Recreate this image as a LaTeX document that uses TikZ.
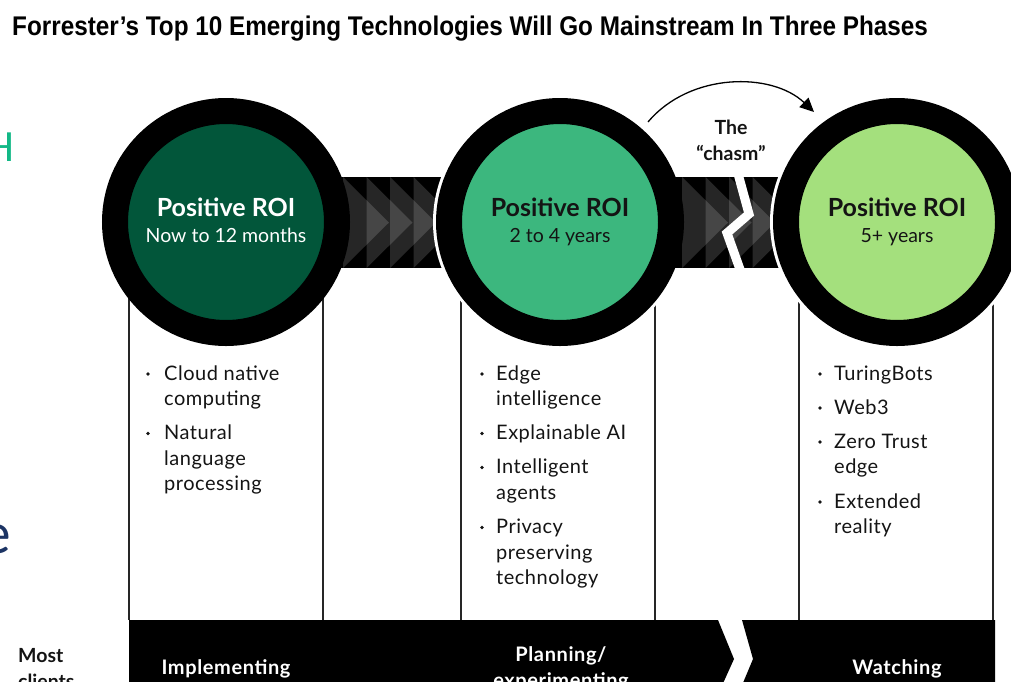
\documentclass[tikz,border=0pt]{standalone}
\usepackage{fontspec}
\setmainfont{Lato}
\newfontfamily\titlefont{Liberation Sans}
\usetikzlibrary{arrows.meta}
\definecolor{darkgreen}{RGB}{2,86,58}
\definecolor{midgreen}{RGB}{60,183,126}
\definecolor{lightgreen}{RGB}{164,224,125}
\definecolor{tealfrag}{RGB}{18,184,134}
\definecolor{navyfrag}{RGB}{28,52,100}
\definecolor{textdark}{RGB}{20,20,20}
\begin{document}
\begin{tikzpicture}[x=1pt,y=-1pt,
  ring/.style={circle, draw=black, line width=26pt, minimum size=222pt, inner sep=0pt},
  gap/.style={fill=white},
  band/.style={fill=black},
  chev/.style={fill=white, fill opacity=0.15},
  colline/.style={draw=black!85, line width=1.4pt},
  ctitle/.style={inner sep=0pt, anchor=base, font=\fontsize{25}{28}\selectfont\bfseries},
  csub/.style={inner sep=0pt, anchor=base, font=\fontsize{19.5}{22}\selectfont},
  item/.style={inner sep=0pt, anchor=base west, text=textdark, font=\fontsize{20}{22}\selectfont\addfontfeature{LetterSpace=2.5}},
  dot/.style={fill=textdark},
  bartext/.style={inner sep=0pt, anchor=base, text=white, font=\fontsize{20}{22}\selectfont\bfseries\addfontfeature{LetterSpace=3}},
  sidetext/.style={inner sep=0pt, anchor=base west, text=textdark, font=\fontsize{19.5}{22}\selectfont\bfseries},
  chasmtext/.style={inner sep=0pt, anchor=base, text=textdark, font=\fontsize{19.5}{22}\selectfont\bfseries},
  crack/.style={draw=white, line width=9pt, miter limit=20},
  chasmarrow/.style={draw=black, line width=1.3pt, -{Triangle[length=14pt,width=13pt]}}
]
\useasboundingbox (0,0) rectangle (1011,681);
\clip (0,0) rectangle (1011,681);

% fragments at left edge
\node[inner sep=0pt, anchor=base east, text=tealfrag, font=\fontsize{40}{40}\selectfont] (fragH) at (15.5,161) {H};
\node[inner sep=0pt, anchor=base east, text=navyfrag, font=\fontsize{56}{56}\selectfont] (fragE) at (11,553) {e};

% title
\node[inner sep=0pt, anchor=base west] (title) at (12,35)
  {\titlefont\bfseries\fontsize{27}{30}\selectfont\scalebox{0.90}[1]{Forrester’s Top 10 Emerging Technologies Will Go Mainstream In Three Phases}};

% column lines
\foreach \x in {129,323,461,655,799,993} \draw[colline] (\x,222) -- (\x,620);

% band 1
\fill[band] (226,177) rectangle (560,268);
\begin{scope}
  \clip (335,177) rectangle (480,268);
  \foreach \x in {343,366.5,390,413.5} \fill[chev] (\x,177) -- (\x+46,222.5) -- (\x,268) -- cycle;
\end{scope}
\node[ring, fill=darkgreen] (c1) at (226,222) {};
\fill[gap] (560,222) circle (127pt);

% band 2
\fill[band] (560,177) rectangle (897,268);
\begin{scope}
  \clip (675,177) rectangle (810,268);
  \foreach \x in {682,705.5,729,752.5} \fill[chev] (\x,177) -- (\x+46,222.5) -- (\x,268) -- cycle;
\end{scope}
\node[ring, fill=midgreen] (c2) at (560,222) {};
\draw[crack] (737,170) -- (749,214) -- (727,233) -- (742,275);
\fill[gap] (897,222) circle (127pt);
\node[ring, fill=lightgreen] (c3) at (897,222) {};

% circle texts
\node[ctitle, text=white] (c1t) at (226,216) {Positive ROI};
\node[csub, text=white] (c1s) at (226,242) {Now to 12 months};
\node[ctitle, text=textdark] (c2t) at (560,216) {Positive ROI};
\node[csub, text=textdark] (c2s) at (560,242) {2 to 4 years};
\node[ctitle, text=textdark] (c3t) at (897,216) {Positive ROI};
\node[csub, text=textdark] (c3s) at (897,242) {5+ years};

% chasm
\node[chasmtext] (chasm1) at (731,134) {The};
\node[chasmtext] (chasm2) at (731,160) {“chasm”};
\coordinate (ca) at (648,122);
\coordinate (cb) at (814,112);
\draw[chasmarrow] (ca) .. controls (690,72) and (772,72) .. (cb);

% column 1 items
\fill[dot] (148,374) circle (1.9pt);
\node[item] (a1) at (164,380) {Cloud native};
\node[item] (a2) at (164,405.5) {computing};
\fill[dot] (148,433.5) circle (1.9pt);
\node[item] (a3) at (164,439.5) {Natural};
\node[item] (a4) at (164,465) {language};
\node[item] (a5) at (164,490.5) {processing};

% column 2 items
\fill[dot] (482,374) circle (1.9pt);
\node[item] (b1) at (496,380) {Edge};
\node[item] (b2) at (496,405.5) {intelligence};
\fill[dot] (482,433.5) circle (1.9pt);
\node[item] (b3) at (496,439.5) {Explainable AI};
\fill[dot] (482,467.5) circle (1.9pt);
\node[item] (b4) at (496,473.5) {Intelligent};
\node[item] (b5) at (496,499) {agents};
\fill[dot] (482,527.5) circle (1.9pt);
\node[item] (b6) at (496,533.5) {Privacy};
\node[item] (b7) at (496,559) {preserving};
\node[item] (b8) at (496,584.5) {technology};

% column 3 items
\fill[dot] (820,374) circle (1.9pt);
\node[item] (d1) at (834,380) {TuringBots};
\fill[dot] (820,408) circle (1.9pt);
\node[item] (d2) at (834,414) {Web3};
\fill[dot] (820,442) circle (1.9pt);
\node[item] (d3) at (834,448) {Zero Trust};
\node[item] (d4) at (834,473.5) {edge};
\fill[dot] (820,502) circle (1.9pt);
\node[item] (d5) at (834,508) {Extended};
\node[item] (d6) at (834,533.5) {reality};

% bottom bar
\fill[band] (129,620) -- (718,620) -- (734,659) -- (720,690) -- (129,690) -- cycle;
\fill[band] (742,620) -- (995,620) -- (995,690) -- (740,690) -- (753,659) -- cycle;
\node[bartext] (imp) at (226,674) {Implementing};
\node[bartext] (plan1) at (561,661) {Planning/};
\node[bartext] (plan2) at (561,687) {experimenting};
\node[bartext] (watch) at (897,674) {Watching};
\node[sidetext] (most1) at (18,662) {Most};
\node[sidetext] (most2) at (18,688) {clients};
\end{tikzpicture}
\end{document}
